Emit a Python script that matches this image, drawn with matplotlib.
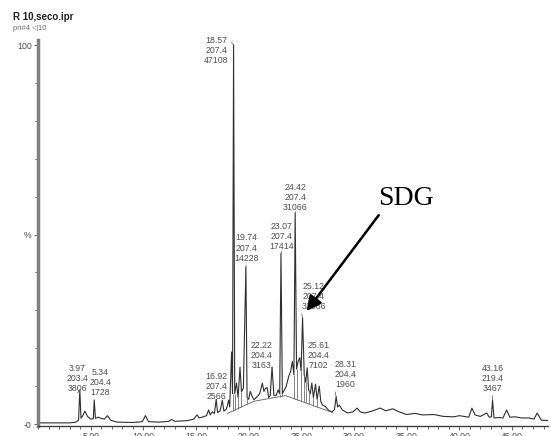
import numpy as np
import matplotlib.pyplot as plt
from matplotlib.ticker import MultipleLocator

# Chromatogram trace (retention time in min, relative intensity in %)
rt = [0.0, 3.0, 3.6, 3.85, 3.97, 4.08, 4.25, 4.45, 4.7, 5.0,
      5.25, 5.34, 5.45, 5.7, 6.0, 6.3, 6.6, 6.9, 7.5, 9.0,
      9.9, 10.2, 10.5, 11.5, 12.4, 12.7, 13.0, 14.2, 14.8, 15.1,
      15.3, 15.7, 16.0, 16.2, 16.35, 16.55, 16.75, 16.92, 17.05, 17.3,
      17.5, 17.65, 17.9, 18.1, 18.2, 18.38, 18.47, 18.57, 18.68, 18.85,
      19.0, 19.18, 19.32, 19.5, 19.74, 19.85, 20.0, 20.15, 20.35, 20.5,
      20.8, 21.05, 21.3, 21.45, 21.6, 21.76, 21.9, 22.05, 22.22, 22.4,
      22.6, 22.8, 22.95, 23.07, 23.2, 23.4, 23.55, 23.8, 24.0, 24.15,
      24.3, 24.42, 24.55, 24.7, 24.85, 24.98, 25.12, 25.28, 25.42, 25.56,
      25.7, 25.85, 26.0, 26.15, 26.35, 26.5, 26.7, 26.85, 27.0, 27.3,
      27.6, 27.9, 28.15, 28.31, 28.45, 28.6, 28.9, 29.4, 29.9, 30.3,
      30.6, 31.0, 31.6, 32.5, 33.0, 33.7, 34.2, 35.0, 35.8, 36.5,
      37.6, 38.5, 39.5, 40.0, 40.9, 41.2, 41.5, 42.0, 42.6, 42.85,
      43.05, 43.16, 43.3, 43.8, 44.15, 44.5, 44.8, 45.3, 45.9, 46.6,
      47.1, 47.4, 47.8, 48.5]
intensity = [0.3, 0.3, 0.5, 1.0, 9.0, 1.5, 2.2, 3.4, 2.0, 1.3,
             1.4, 6.3, 1.5, 1.8, 1.5, 1.3, 2.2, 1.0, 0.5, 0.4,
             0.6, 2.2, 0.6, 0.5, 0.7, 1.2, 0.7, 0.9, 1.3, 2.4,
             1.6, 1.9, 2.2, 3.7, 2.4, 3.2, 2.8, 6.5, 3.0, 3.5,
             6.3, 3.4, 4.0, 6.3, 4.5, 19.0, 8.0, 100.0, 8.0, 10.8,
             7.0, 15.0, 8.5, 9.5, 41.4, 7.0, 6.5, 8.6, 7.2, 6.4,
             7.2, 8.0, 10.8, 8.6, 9.4, 9.6, 7.0, 7.5, 15.0, 7.6,
             7.5, 9.0, 8.0, 45.0, 8.0, 9.0, 9.8, 12.5, 14.0, 16.5,
             13.0, 55.7, 14.5, 16.5, 17.5, 14.0, 28.0, 13.0, 11.0, 14.8,
             9.0, 8.0, 10.8, 7.0, 10.5, 6.5, 10.0, 6.0, 5.0, 4.6,
             3.6, 3.2, 3.8, 7.2, 4.5, 5.0, 3.7, 2.9, 3.2, 4.2,
             3.2, 2.9, 3.3, 4.2, 3.5, 4.0, 3.3, 2.5, 2.8, 2.4,
             2.5, 2.0, 1.9, 2.2, 1.8, 4.2, 2.4, 2.0, 2.9, 1.8,
             1.9, 6.3, 1.6, 1.7, 1.6, 3.7, 1.8, 1.9, 1.6, 1.6,
             1.3, 2.9, 1.0, 0.9]

# Integration baseline and drop lines
base_t = [18.0, 20.5, 23.5, 28.0]
base_y = [2.8, 6.0, 7.5, 3.0]
drop_t = [18.47, 18.68, 19.0, 19.32, 19.85, 22.95, 23.2, 24.3, 24.55,
          24.98, 25.28, 25.42, 25.7, 26.15, 26.5]

# Peak labels: retention time, base peak m/z, area
peak_rt = ['3.97', '5.34', '16.92', '18.57', '19.74', '22.22', '23.07',
           '24.42', '25.12', '25.61', '28.31', '43.16']
peak_mz = ['203.4', '204.4', '207.4', '207.4', '207.4', '204.4', '207.4',
           '207.4', '207.4', '204.4', '204.4', '219.4']
peak_area = ['3806', '1728', '2566', '47108', '14228', '3163', '17414',
             '31066', '31086', '7102', '1960', '3467']
peak_x = [3.97, 5.34, 16.92, 18.57, 19.74, 22.22, 23.07,
          24.42, 25.12, 25.56, 28.31, 43.16]
peak_y = [9.0, 6.3, 6.5, 100.0, 41.4, 15.0, 45.0,
          55.7, 28.0, 14.8, 7.2, 6.3]
# label anchor (centre x, bottom y) in data units
lab_x = [3.75, 5.94, 16.95, 16.95, 19.8, 21.23, 23.12,
         24.45, 26.16, 26.64, 29.2, 43.16]
lab_y = [8.2, 7.1, 6.1, 94.7, 42.6, 14.2, 45.6,
         56.0, 29.8, 14.2, 9.2, 8.2]
lab_rel = [(0.5, 0), (0, 0), (0.5, 0), (1, 0.9), (0.5, 0), (1, 0), (0.5, 0),
           (0.5, 0), (0, 0), (0, 0), (0, 0), (0.5, 0)]

grey = '#505050'
plt.rcParams['font.family'] = ['Liberation Sans', 'DejaVu Sans']

fig = plt.figure(figsize=(5.51, 4.36), dpi=100)
ax = fig.add_axes([0.069, 0.0229, 0.926, 0.885])

ax.plot(rt, intensity, color='#303030', lw=0.8)
ax.plot(base_t, base_y, color='#606060', lw=0.6)
lookup = dict(zip(rt, intensity))
drop_top = [lookup[t] for t in drop_t]
drop_bot = np.interp(drop_t, base_t, base_y)
ax.vlines(drop_t, drop_bot, drop_top, color='#707070', lw=0.6)

for i in range(len(peak_rt)):
    ax.annotate(peak_rt[i] + '\n' + peak_mz[i] + '\n' + peak_area[i],
                xy=(peak_x[i], peak_y[i]), xytext=(lab_x[i], lab_y[i]),
                ha='center', va='bottom', fontsize=6.3, color=grey,
                linespacing=1.15,
                arrowprops=dict(arrowstyle='-', lw=0.5, color=grey,
                                shrinkA=0, shrinkB=0, relpos=lab_rel[i]))

# SDG arrow
ax.annotate('', xy=(25.5, 29.8), xytext=(32.35, 55.1),
            arrowprops=dict(arrowstyle='-|>', lw=1.8, color='black',
                            mutation_scale=22, shrinkA=0, shrinkB=0))
ax.text(34.9, 59.4, 'SDG', fontsize=20, family='Liberation Serif',
        ha='center', va='center', color='black')

ax.set_xlim(0, 48.45)
ax.set_ylim(-0.53, 101.3)
ax.xaxis.set_major_locator(MultipleLocator(5))
ax.xaxis.set_minor_locator(MultipleLocator(1))
ax.set_xticks([5, 10, 15, 20, 25, 30, 35, 40, 45])
ax.set_xticklabels(['5.00', '10.00', '15.00', '20.00', '25.00', '30.00',
                    '35.00', '40.00', '45.00'])
ax.set_yticks([0, 50, 100])
ax.set_yticklabels(['-0', '%', '100'])
ax.yaxis.set_minor_locator(MultipleLocator(10))
ax.tick_params(axis='both', which='major', direction='out', length=3,
               width=0.6, color=grey, labelsize=6.3, labelcolor=grey, pad=1.5)
ax.tick_params(axis='both', which='minor', direction='out', length=2,
               width=0.6, color=grey)

for s in ['top', 'right']:
    ax.spines[s].set_visible(False)
ax.spines['left'].set_color('#808080')
ax.spines['left'].set_linewidth(2.5)
ax.spines['bottom'].set_color('#404040')
ax.spines['bottom'].set_linewidth(1.0)

fig.text(13 / 551, 1 - 17 / 436, 'R 10,seco.ipr', fontsize=7,
         fontweight='bold', color='#202020', va='center')
fig.text(13 / 551, 1 - 28 / 436, 'pn#4 \u25c110', fontsize=5.5,
         color='#707070', va='center', family=['Liberation Sans', 'DejaVu Sans'])

fig.savefig('out.png', dpi=100)
